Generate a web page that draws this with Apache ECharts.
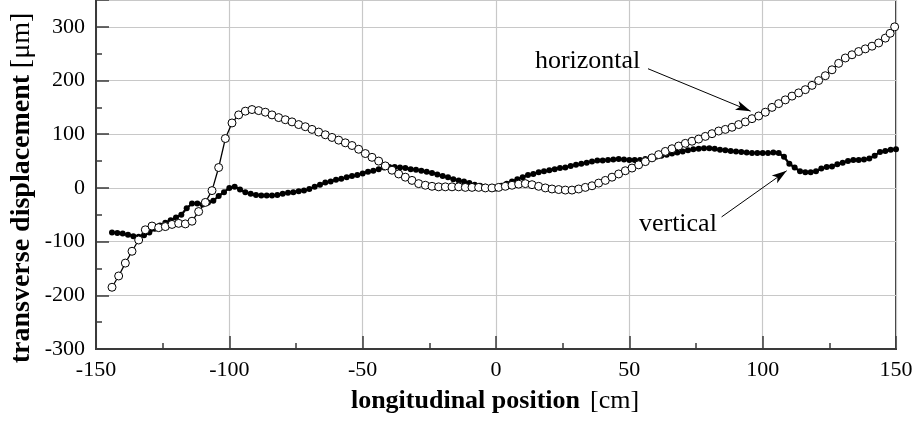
<!DOCTYPE html>
<html>
<head>
<meta charset="utf-8">
<script src="https://cdn.jsdelivr.net/npm/echarts@6/dist/echarts.min.js"></script>
<style>
  html, body { margin: 0; padding: 0; background: #fff; }
  #chart { width: 917px; height: 421px; }
</style>
</head>
<body>
<div id="chart"></div>
<script>
// horizontal displacement (open circles)
var horizX = [-144,-141.5,-139,-136.5,-134,-131.5,-129,-126.5,-124,-121.5,-119,-116.5,-114,-111.5,-109,-106.5,-104,-101.5,-99,-96.5,
  -94,-91.5,-89,-86.5,-84,-81.5,-79,-76.5,-74,-71.5,-69,-66.5,-64,-61.5,-59,-56.5,-54,-51.5,-49,-46.5,
  -44,-41.5,-39,-36.5,-34,-31.5,-29,-26.5,-24,-21.5,-19,-16.5,-14,-11.5,-9,-6.5,-4,-1.5,1,3.5,
  6,8.5,11,13.5,16,18.5,21,23.5,26,28.5,31,33.5,36,38.5,41,43.5,46,48.5,51,53.5,
  56,58.5,61,63.5,66,68.5,71,73.5,76,78.5,81,83.5,86,88.5,91,93.5,96,98.5,101,103.5,
  106,108.5,111,113.5,116,118.5,121,123.5,126,128.5,131,133.5,136,138.5,141,143.5,146,147.8,149.5];
var horizY = [-185,-164,-140,-118,-97,-78,-71,-74,-72,-68,-66,-67,-62,-44,-27,-5,38,92,121,136,
  143,146,144,141,136,131,127,123,118,114,109,104,99,94,89,84,79,72,64,57,
  50,41,33,26,20,14,8,5,3,2,2,2,2,1,1,1,0,0,1,3,
  5,7,8,6,3,0,-2,-3,-4,-4,-2,1,4,9,14,20,26,32,37,43,
  49,56,62,68,73,78,83,87,91,96,101,106,109,113,118,123,129,134,141,150,
  157,164,171,177,183,191,200,209,220,232,242,248,254,259,264,270,279,288,300];

// vertical displacement (filled dots)
var vertX = [-144,-142,-140,-138,-136,-134,-132,-130,-128,-126,-124,-122,-120,-118,-116,-114,-112,-110,-108,-106,
  -104,-102,-100,-98,-96,-94,-92,-90,-88,-86,-84,-82,-80,-78,-76,-74,-72,-70,-68,-66,
  -64,-62,-60,-58,-56,-54,-52,-50,-48,-46,-44,-42,-40,-38,-36,-34,-32,-30,-28,-26,
  -24,-22,-20,-18,-16,-14,-12,-10,-8,-6,-4,-2,0,2,4,6,8,10,12,14,
  16,18,20,22,24,26,28,30,32,34,36,38,40,42,44,46,48,50,52,54,
  56,58,60,62,64,66,68,70,72,74,76,78,80,82,84,86,88,90,92,94,
  96,98,100,102,104,106,108,110,112,114,116,118,120,122,124,126,128,130,132,134,
  136,138,140,142,144,146,148,150];
var vertY = [-83,-84,-85,-87,-90,-91,-88,-83,-76,-70,-65,-60,-55,-50,-38,-29,-29,-31,-27,-24,
  -15,-8,0,2,-3,-8,-11,-13,-14,-14,-14,-13,-11,-9,-8,-6,-5,-2,2,6,
  10,12,15,17,20,22,24,27,30,32,35,38,39,39,38,37,35,34,32,30,
  28,25,22,20,16,14,12,9,6,4,2,0,-1,4,8,12,16,20,24,26,
  29,31,33,35,37,38,41,43,45,47,49,51,51,52,53,54,53,52,52,52,
  54,56,58,60,62,64,66,68,70,72,73,74,74,73,71,70,69,68,67,66,
  65,65,65,65,66,65,58,45,38,31,29,29,31,36,39,40,44,47,50,52,
  52,53,55,60,67,69,71,72];

// annotation texts and arrows (data units)
var notes = [
  { text: 'horizontal', at: [14.6, 236], from: [57, 222], to: [95.5, 143] },
  { text: 'vertical', at: [53.6, -68], from: [84.6, -54], to: [109, 32] }
];

var serif = '"Liberation Serif", "Times New Roman", serif';
var axisColor = '#3a3a3a';
var gridColor = '#c8c8c8';

function pairs(xs, ys) {
  var out = [];
  for (var i = 0; i < xs.length; i++) out.push([xs[i], ys[i]]);
  return out;
}

var arrowLines = notes.map(function (n) {
  return [{ coord: n.from }, { coord: n.to }];
});

var chart = echarts.init(document.getElementById('chart'));

var option = {
  animation: false,
  backgroundColor: '#fff',
  grid: {
    left: 96, right: 21, top: -1, bottom: 72,
    show: true,
    borderColor: axisColor,
    borderWidth: 2,
    containLabel: false
  },
  xAxis: {
    type: 'value',
    min: -150, max: 150, interval: 50,
    axisLine: { show: true, onZero: false, lineStyle: { color: axisColor, width: 2 } },
    axisTick: { show: true, inside: true, length: 13, lineStyle: { color: axisColor, width: 1.5 } },
    minorTick: { show: true, splitNumber: 2, length: 6, lineStyle: { color: axisColor, width: 1.5 } },
    axisLabel: { color: '#000', fontFamily: serif, fontSize: 22, margin: 10 },
    splitLine: { show: true, lineStyle: { color: gridColor, width: 1.2 } }
  },
  yAxis: [
    { // major ticks + labels
      type: 'value',
      min: -300, max: 350, interval: 100,
      position: 'left',
      axisLine: { show: true, onZero: false, lineStyle: { color: axisColor, width: 2 } },
      axisTick: { show: true, inside: true, length: 13, lineStyle: { color: axisColor, width: 1.5 } },
      axisLabel: {
        color: '#000', fontFamily: serif, fontSize: 22, margin: 11,
        formatter: function (v) { return v > 300 ? '' : String(v); }
      },
      splitLine: { show: true, lineStyle: { color: gridColor, width: 1.2 } }
    },
    { // minor ticks every 50
      type: 'value',
      min: -300, max: 350, interval: 50,
      position: 'left',
      axisLine: { show: false, onZero: false },
      axisTick: { show: true, inside: true, length: 6, lineStyle: { color: axisColor, width: 1.5 } },
      axisLabel: { show: false },
      splitLine: { show: false }
    }
  ],
  series: [
    {
      name: 'vertical',
      type: 'line',
      data: pairs(vertX, vertY),
      symbol: 'circle',
      symbolSize: 6,
      showAllSymbol: true,
      itemStyle: { color: '#000' },
      lineStyle: { color: '#000', width: 2.2 },
      z: 3
    },
    {
      name: 'horizontal',
      type: 'line',
      data: pairs(horizX, horizY),
      symbol: 'circle',
      symbolSize: 8,
      showAllSymbol: true,
      itemStyle: { color: '#fff', borderColor: '#000', borderWidth: 1 },
      lineStyle: { color: '#000', width: 1.3 },
      z: 4,
      markLine: {
        silent: true,
        symbol: ['none', 'arrow'],
        symbolSize: [7, 15],
        label: { show: false },
        lineStyle: { color: '#000', width: 1, type: 'solid' },
        itemStyle: { color: '#000' },
        data: arrowLines
      }
    }
  ]
};

chart.setOption(option);

// texts: axis titles and the curve names
var graphics = [
  {
    type: 'text',
    x: 22, y: 188,
    rotation: Math.PI / 2,
    style: {
      text: '{b|transverse displacement}  {n|[μm]}',
      textAlign: 'center',
      textVerticalAlign: 'middle',
      rich: {
        b: { fontFamily: serif, fontSize: 28, fontWeight: 'bold', fill: '#000' },
        n: { fontFamily: serif, fontSize: 28, fill: '#000' }
      }
    }
  },
  {
    type: 'text',
    x: 495, y: 401,
    style: {
      text: '{b|longitudinal position}   {n|[cm]}',
      textAlign: 'center',
      textVerticalAlign: 'middle',
      rich: {
        b: { fontFamily: serif, fontSize: 26, fontWeight: 'bold', fill: '#000' },
        n: { fontFamily: serif, fontSize: 26, fill: '#000' }
      }
    }
  }
];
notes.forEach(function (n) {
  var p = chart.convertToPixel({ gridIndex: 0 }, n.at);
  graphics.push({
    type: 'text',
    x: p[0], y: p[1],
    style: {
      text: n.text,
      fontFamily: serif, fontSize: 26, fill: '#000',
      textAlign: 'left', textVerticalAlign: 'middle'
    }
  });
});
chart.setOption({ graphic: graphics });
</script>
</body>
</html>
